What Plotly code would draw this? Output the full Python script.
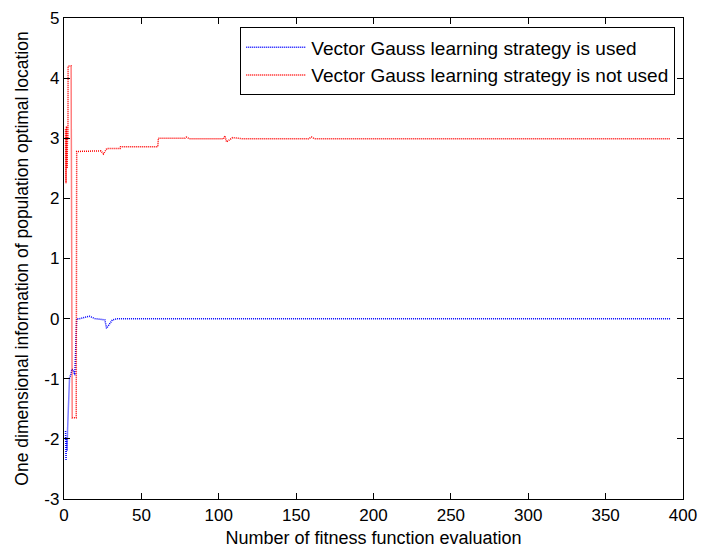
import plotly.graph_objects as go

# Blue series: Vector Gauss learning strategy is used
blue_x = [1, 1.3, 1.6, 2.0, 2.3, 3.6, 4.3, 5.1, 6.0, 7.0, 8.2, 10, 13, 16.4, 20, 25, 26.4, 27.5, 29, 31.3, 34.5, 40, 392]
blue_y = [-1.87, -2.36, -1.98, -2.2, -1.85, -0.97, -0.95, -0.84, -0.86, -0.94, 0.0, 0.0, 0.02, 0.04, 0.0, -0.01, -0.02, -0.16, -0.1, -0.02, 0.0, 0.0, 0.0]

# Red series: Vector Gauss learning strategy is not used
red_x = [1, 1.3, 1.6, 2.0, 2.3, 2.55, 2.65, 4.6, 5.3, 7.9, 8.2, 23.8, 25.5, 27.7, 36.2, 36.5, 60.6, 61, 78, 79, 81, 103, 104, 105, 109, 115, 116, 158, 160, 162, 392]
red_y = [3.15, 2.25, 3.2, 2.5, 3.1, 3.0, 4.2, 4.2, -1.65, -1.65, 2.78, 2.79, 2.74, 2.83, 2.83, 2.86, 2.86, 3.0, 3.0, 3.02, 2.99, 2.99, 3.04, 2.94, 3.01, 3.0, 2.99, 2.99, 3.02, 2.99, 2.99]

x_ticks = [0, 50, 100, 150, 200, 250, 300, 350, 400]
y_ticks = [-3, -2, -1, 0, 1, 2, 3, 4, 5]

FONT = "Liberation Sans, Arial, sans-serif"

fig = go.Figure()
fig.add_trace(go.Scatter(x=blue_x, y=blue_y, mode="lines",
                         name="Vector Gauss learning strategy is used",
                         line=dict(color="rgb(0,0,255)", width=1.5, dash="1px,1px")))
fig.add_trace(go.Scatter(x=red_x, y=red_y, mode="lines",
                         name="Vector Gauss learning strategy is not used",
                         line=dict(color="rgb(255,0,0)", width=1.5, dash="1px,1px")))

axis_common = dict(showgrid=False, zeroline=False, showline=True, linecolor="black",
                   linewidth=1.3, mirror="allticks", ticks="inside", ticklen=6,
                   tickcolor="black", tickwidth=1,
                   tickfont=dict(family=FONT, size=17, color="black"))

fig.update_layout(
    width=706, height=553,
    margin=dict(l=64, r=15, t=9, b=54),
    paper_bgcolor="white", plot_bgcolor="white",
    font=dict(family=FONT, size=17, color="black"),
    xaxis=dict(range=[0, 400], tickvals=x_ticks, ticktext=[str(v) for v in x_ticks],
               title=dict(text="Number of fitness function evaluation", standoff=7,
                          font=dict(family=FONT, size=18)),
               **axis_common),
    yaxis=dict(range=[-3, 5], tickvals=y_ticks, ticktext=[str(v) for v in y_ticks],
               title=dict(text="One dimensional information of population optimal location",
                          standoff=11, font=dict(family=FONT, size=17.5)),
               **axis_common),
    legend=dict(x=0.987, y=0.981, xanchor="right", yanchor="top",
                bgcolor="white", bordercolor="black", borderwidth=1.3,
                font=dict(family=FONT, size=19), itemwidth=60, tracegroupgap=0),
    showlegend=True,
)

fig.write_html("out.html")
